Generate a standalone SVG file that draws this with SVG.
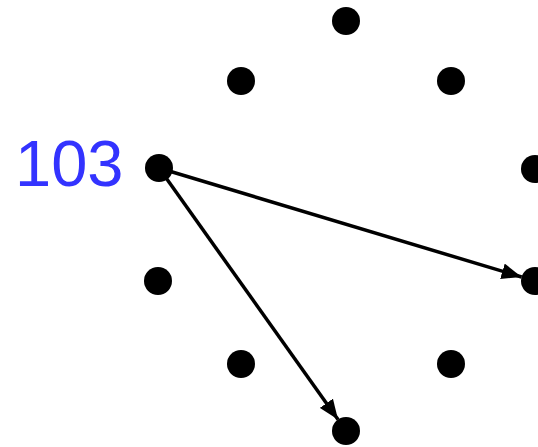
<svg xmlns="http://www.w3.org/2000/svg" width="538" height="447" viewBox="0 0 538 447">
<style>
.dot{fill:#000}
.edge{stroke:#000;stroke-width:3.5;fill:none}
.lbl{font-family:"Liberation Sans",Arial,sans-serif;font-size:65px;fill:#3333ff}
</style>
<defs>
<marker id="ah" markerUnits="userSpaceOnUse" markerWidth="22" markerHeight="16" refX="20" refY="8" orient="auto">
<path d="M0,0 L20,8 L0,16 Z" fill="#000"/>
</marker>
</defs>
<rect width="538" height="447" fill="#fff"/>
<g id="connectors">
<line class="edge" x1="159" y1="168" x2="521.6" y2="277" marker-end="url(#ah)"/>
<line class="edge" x1="159" y1="168" x2="338" y2="419.6" marker-end="url(#ah)"/>
</g>
<g id="n0"><circle class="dot" cx="346" cy="21" r="14"/></g>
<g id="n1"><circle class="dot" cx="241" cy="81" r="14"/></g>
<g id="n2"><circle class="dot" cx="451" cy="81" r="14"/></g>
<g id="n3"><circle class="dot" cx="159" cy="168" r="14"/><text class="lbl" x="15" y="186">103</text></g>
<g id="n4"><circle class="dot" cx="535" cy="169" r="14"/></g>
<g id="n5"><circle class="dot" cx="158" cy="281" r="14"/></g>
<g id="n6"><circle class="dot" cx="535" cy="281" r="14"/></g>
<g id="n7"><circle class="dot" cx="241" cy="364" r="14"/></g>
<g id="n8"><circle class="dot" cx="451" cy="364" r="14"/></g>
<g id="n9"><circle class="dot" cx="346" cy="431" r="14"/></g>
</svg>
